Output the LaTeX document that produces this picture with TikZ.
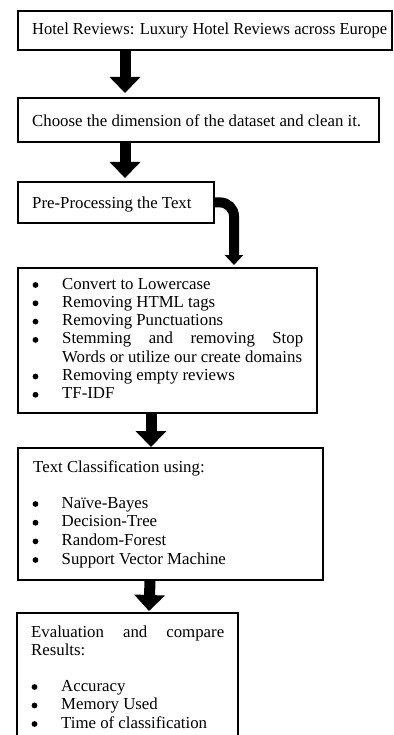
\documentclass[tikz,border=0pt]{standalone}
\usepackage{fontspec}
\setmainfont{Liberation Serif}
\usetikzlibrary{arrows.meta}
\begin{document}
\begin{tikzpicture}[x=1pt,y=-1pt,
  box/.style={draw,line width=1.8pt,inner sep=0pt,anchor=north west},
  txt/.style={anchor=base west,inner sep=0pt,font=\fontsize{16.8}{18.3}\selectfont},
  bul/.style={circle,fill,inner sep=0pt,minimum size=5.8pt},
  bigarrow/.style={line width=11pt,-{Triangle[width=30pt,length=16pt]}},
  bentarrow/.style={line width=10pt,rounded corners=14pt,-{Triangle[width=18pt,length=10pt]}}]
\useasboundingbox (0,0) rectangle (393,735);
\clip (0,0) rectangle (393,735);
\fill[white] (0,0) rectangle (393,735);
% boxes
\node[box,minimum width=374pt,minimum height=39pt] (b1) at (17,10) {};
\node[box,minimum width=361pt,minimum height=44pt] (b2) at (17,97) {};
\node[box,minimum width=196pt,minimum height=41pt] (b3) at (17,181) {};
\node[box,minimum width=299pt,minimum height=145pt] (b4) at (17,267) {};
\node[box,minimum width=305pt,minimum height=132pt] (b5) at (17,447) {};
\node[box,minimum width=221pt,minimum height=140pt] (b6) at (16,612) {};
% arrows
\draw[bigarrow] ([xshift=108pt]b1.south west) -- ([xshift=108pt,yshift=4pt]b2.north west);
\draw[bigarrow] ([xshift=108pt]b2.south west) -- ([xshift=108pt,yshift=3pt]b3.north west);
\draw[bentarrow] (b3.east) -| ([xshift=217pt,yshift=2pt]b4.north west);
\draw[bigarrow] ([xshift=134pt]b4.south west) -- ([xshift=134pt]b5.north west);
\draw[bigarrow] ([xshift=133pt]b5.south west) -- ([xshift=133pt,yshift=1pt]b6.north west);
% texts
\node[txt] (t1) at (32,34.5) {\resizebox{355pt}{\height}{Hotel Reviews: Luxury Hotel Reviews across Europe}};
\node[txt] (t2) at (32,127) {Choose the dimension of the dataset and clean it.};
\node[txt] (t3) at (32,208) {Pre-Processing the Text};
% box 4
\node[bul] (p1b) at (35.5,285) {};
\node[txt] (p1) at (62,289) {Convert to Lowercase};
\node[bul] (p2b) at (35.5,303.3) {};
\node[txt] (p2) at (62,307.3) {Removing HTML tags};
\node[bul] (p3b) at (35.5,321.6) {};
\node[txt] (p3) at (62,325.6) {Removing Punctuations};
\node[bul] (p4b) at (35.5,339.9) {};
\node[txt] (p4) at (62,343.9) {\makebox[241pt][s]{Stemming and removing Stop}};
\node[txt] (p5) at (62,362.2) {Words or utilize our create domains};
\node[bul] (p6b) at (35.5,376.5) {};
\node[txt] (p6) at (62,380.5) {Removing empty reviews};
\node[bul] (p7b) at (35.5,394.8) {};
\node[txt] (p7) at (62,398.8) {TF-IDF};
% box 5
\node[txt] (c0) at (33,472) {Text Classification using:};
\node[bul] (c1b) at (35.5,504) {};
\node[txt] (c1) at (61.5,508) {Naïve-Bayes};
\node[bul] (c2b) at (35.5,522.7) {};
\node[txt] (c2) at (61.5,526.7) {Decision-Tree};
\node[bul] (c3b) at (35.5,541.4) {};
\node[txt] (c3) at (61.5,545.4) {Random-Forest};
\node[bul] (c4b) at (35.5,560) {};
\node[txt] (c4) at (61.5,564) {Support Vector Machine};
% box 6
\node[txt] (e0) at (31,637) {\makebox[193pt][s]{Evaluation and compare}};
\node[txt] (e1) at (31,655.5) {Results:};
\node[bul] (e2b) at (34.5,687) {};
\node[txt] (e2) at (61,691) {Accuracy};
\node[bul] (e3b) at (34.5,705.5) {};
\node[txt] (e3) at (61,709.5) {Memory Used};
\node[bul] (e4b) at (34.5,724) {};
\node[txt] (e4) at (61,728) {Time of classification};
\end{tikzpicture}
\end{document}
